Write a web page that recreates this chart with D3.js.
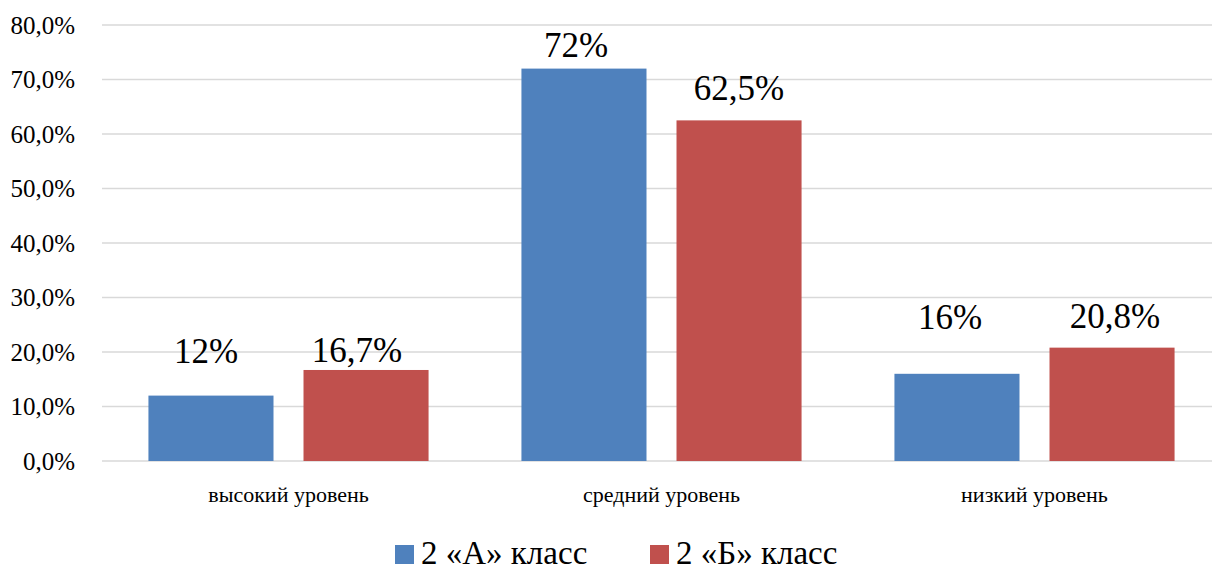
<!DOCTYPE html>
<html>
<head>
<meta charset="utf-8">
<script src="https://cdn.jsdelivr.net/npm/d3@7"></script>
</head>
<body style="margin:0;padding:0;background:#fff;overflow:hidden">
<svg id="chart" width="1212" height="570" style="display:block" font-family="Liberation Serif"></svg>
<script>
// Levels and class results (percent)
const categories = ["высокий уровень", "средний уровень", "низкий уровень"];
const seriesNames = ["2 «А» класс", "2 «Б» класс"];
const classA = [12, 72, 16];
const classB = [16.7, 62.5, 20.8];
const valueLabelsA = ["12%", "72%", "16%"];
const valueLabelsB = ["16,7%", "62,5%", "20,8%"];
const yTicks = [0, 10, 20, 30, 40, 50, 60, 70, 80];

// Label nudges in pixels (dx, dy above bar top), per series and category
const labelShiftA = [[-5, 33], [-8, 12], [-7, 45]];
const labelShiftB = [[-9, 8], [0, 20], [3, 20]];

const colors = ["#4F81BD", "#C0504D"];
const FONT = "Liberation Serif";

const svg = d3.select("#chart");
const plotLeft = 102, plotRight = 1221, plotTop = 25, plotBottom = 461;

const x0 = d3.scaleBand().domain(categories).range([plotLeft, plotRight])
  .paddingInner(0.249).paddingOuter(0.1245);
const x1 = d3.scaleBand().domain(seriesNames).range([0, x0.bandwidth()])
  .paddingInner(0.1935);
const y = d3.scaleLinear().domain([0, 80]).range([plotBottom, plotTop]);

// Gridlines
svg.append("g").selectAll("line").data(yTicks).join("line")
  .attr("x1", plotLeft).attr("x2", 1212)
  .attr("y1", d => y(d)).attr("y2", d => y(d))
  .attr("stroke", "#d9d9d9").attr("stroke-width", 1.5);

// Y axis labels
const yAxis = d3.axisLeft(y).tickValues(yTicks).tickSize(0).tickPadding(0)
  .tickFormat(d => d3.format(".1f")(d).replace(".", ",") + "%");
const yg = svg.append("g").attr("transform", "translate(75,0)").call(yAxis);
yg.select(".domain").remove();
yg.attr("font-family", FONT).attr("font-size", 25);
yg.selectAll("text").attr("font-family", FONT).attr("font-size", 25).attr("fill", "#000");

// X axis labels
const xAxis = d3.axisBottom(x0).tickSize(0).tickPadding(0);
const xg = svg.append("g").attr("transform", `translate(0,${plotBottom})`).call(xAxis);
xg.select(".domain").remove();
xg.attr("font-family", FONT).attr("font-size", 22);
xg.selectAll("text").attr("font-family", FONT).attr("font-size", 22).attr("fill", "#000")
  .attr("dy", null).attr("y", 41);

// Bars
const series = [
  { name: seriesNames[0], values: classA, labels: valueLabelsA, shift: labelShiftA, color: colors[0] },
  { name: seriesNames[1], values: classB, labels: valueLabelsB, shift: labelShiftB, color: colors[1] }
];

series.forEach(s => {
  const g = svg.append("g");
  const rows = categories.map((c, i) => ({ c, v: s.values[i], label: s.labels[i], shift: s.shift[i] }));
  g.selectAll("rect").data(rows).join("rect")
    .attr("x", d => x0(d.c) + x1(s.name))
    .attr("width", x1.bandwidth())
    .attr("y", d => y(d.v))
    .attr("height", d => y(0) - y(d.v))
    .attr("fill", s.color);
  g.selectAll("text").data(rows).join("text")
    .attr("x", d => x0(d.c) + x1(s.name) + x1.bandwidth() / 2 + d.shift[0])
    .attr("y", d => y(d.v) - d.shift[1])
    .attr("text-anchor", "middle")
    .attr("font-family", FONT).attr("font-size", 35)
    .attr("fill", "#000")
    .text(d => d.label);
});

// Legend
const legend = svg.append("g").attr("transform", "translate(395,545)");
const legendX = [0, 255];
seriesNames.forEach((n, i) => {
  const item = legend.append("g").attr("transform", `translate(${legendX[i]},0)`);
  item.append("rect").attr("width", 19).attr("height", 19).attr("fill", colors[i]);
  item.append("text").attr("x", 26).attr("y", 19)
    .attr("font-family", FONT).attr("font-size", 33)
    .attr("fill", "#000").text(n);
});
</script>
</body>
</html>
